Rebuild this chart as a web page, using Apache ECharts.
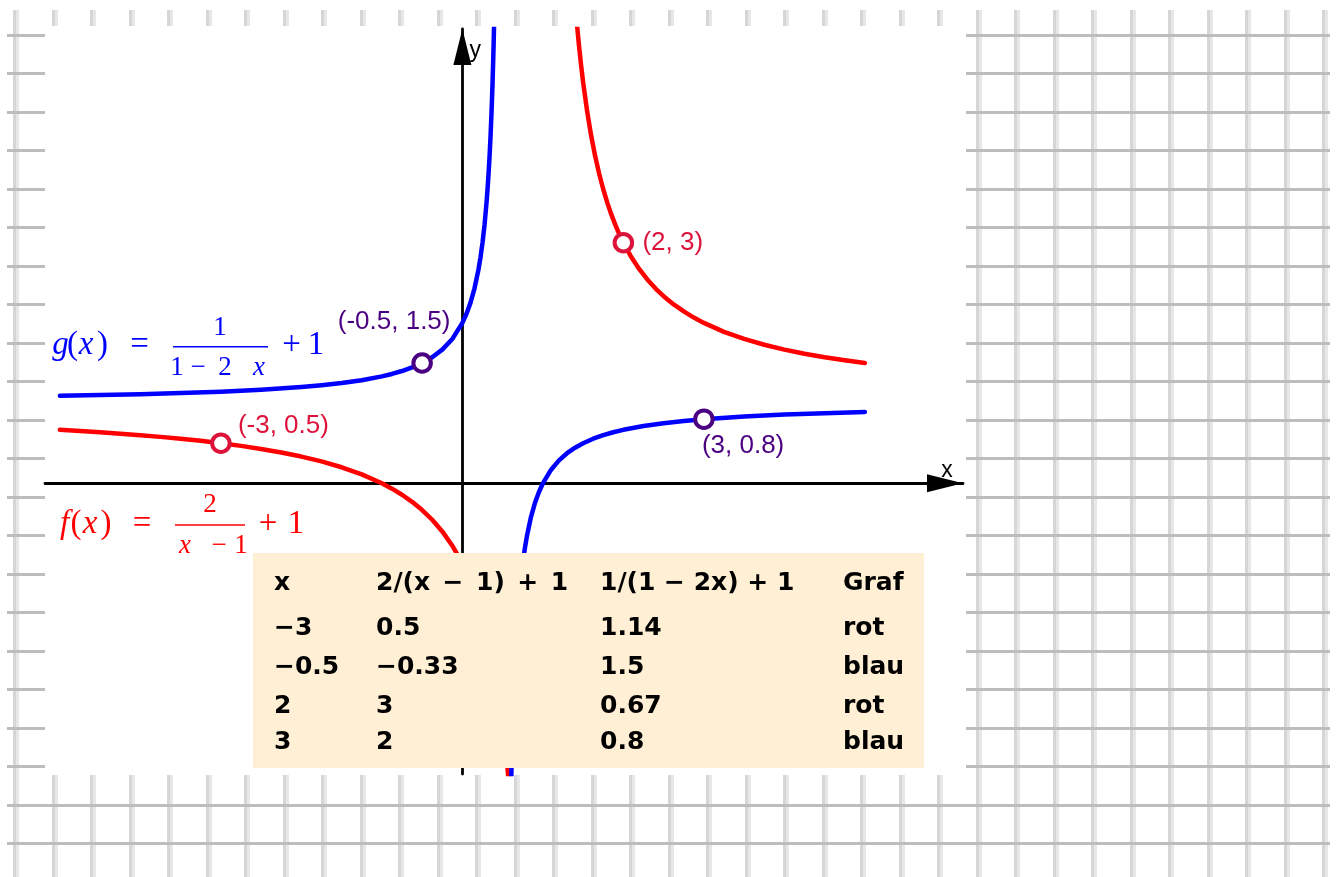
<!DOCTYPE html>
<html>
<head>
<meta charset="utf-8">
<script src="https://cdn.jsdelivr.net/npm/echarts@6/dist/echarts.min.js"></script>
<style>
  html, body { margin: 0; padding: 0; background: #fff; }
  #chart { width: 1336px; height: 877px; }
</style>
</head>
<body>
<div id="chart"></div>
<script>
// f(x) = 2/(x - 1) + 1 (red) and g(x) = 1/(1 - 2x) + 1 (blue), sampled on [-5, 5]
const fLeftBranch = [
  [-5, 0.6667], [-4.75, 0.6522], [-4.5, 0.6364], [-4.25, 0.619], [-4, 0.6], [-3.75, 0.5789],
  [-3.5, 0.5556], [-3.25, 0.5294], [-3, 0.5], [-2.75, 0.4667], [-2.5, 0.4286], [-2.25, 0.3846],
  [-2, 0.3333], [-1.75, 0.2727], [-1.5, 0.2], [-1.25, 0.1111], [-1, 0], [-0.875, -0.0667],
  [-0.75, -0.1429], [-0.625, -0.2308], [-0.5, -0.3333], [-0.375, -0.4545], [-0.25, -0.6],
  [-0.125, -0.7778], [0, -1], [0.05, -1.1053], [0.1, -1.2222], [0.15, -1.3529], [0.2, -1.5],
  [0.25, -1.6667], [0.3, -1.8571], [0.35, -2.0769], [0.4, -2.3333], [0.45, -2.6364], [0.5, -3],
  [0.525, -3.2105], [0.55, -3.4444], [0.575, -3.7059], [0.6, -4]
];
const fRightBranch = [
  [1.4, 6], [1.425, 5.7059], [1.45, 5.4444], [1.475, 5.2105], [1.5, 5], [1.55, 4.6364],
  [1.6, 4.3333], [1.65, 4.0769], [1.7, 3.8571], [1.75, 3.6667], [1.8, 3.5], [1.85, 3.3529],
  [1.9, 3.2222], [1.95, 3.1053], [2, 3], [2.1, 2.8182], [2.2, 2.6667], [2.3, 2.5385],
  [2.4, 2.4286], [2.5, 2.3333], [2.625, 2.2308], [2.75, 2.1429], [2.875, 2.0667], [3, 2],
  [3.25, 1.8889], [3.5, 1.8], [3.75, 1.7273], [4, 1.6667], [4.25, 1.6154], [4.5, 1.5714],
  [4.75, 1.5333], [5, 1.5]
];
const gLeftBranch = [
  [-5, 1.0909], [-4.5, 1.1], [-4, 1.1111], [-3.5, 1.125], [-3, 1.1429], [-2.5, 1.1667],
  [-2, 1.2], [-1.75, 1.2222], [-1.5, 1.25], [-1.25, 1.2857], [-1, 1.3333], [-0.875, 1.3636],
  [-0.75, 1.4], [-0.625, 1.4444], [-0.5, 1.5], [-0.375, 1.5714], [-0.25, 1.6667],
  [-0.125, 1.8], [0, 2], [0.05, 2.1111], [0.1, 2.25], [0.15, 2.4286], [0.2, 2.6667],
  [0.225, 2.8182], [0.25, 3], [0.275, 3.2222], [0.3, 3.5], [0.3125, 3.6667], [0.325, 3.8571],
  [0.3375, 4.0769], [0.35, 4.3333], [0.3625, 4.6364], [0.375, 5], [0.3875, 5.4444], [0.4, 6]
];
const gRightBranch = [
  [0.6, -4], [0.6125, -3.4444], [0.625, -3], [0.6375, -2.6364], [0.65, -2.3333],
  [0.6625, -2.0769], [0.675, -1.8571], [0.7, -1.5], [0.725, -1.2222], [0.75, -1],
  [0.775, -0.8182], [0.8, -0.6667], [0.85, -0.4286], [0.9, -0.25], [0.95, -0.1111], [1, 0],
  [1.1, 0.1667], [1.2, 0.2857], [1.3, 0.375], [1.4, 0.4444], [1.5, 0.5], [1.625, 0.5556],
  [1.75, 0.6], [1.875, 0.6364], [2, 0.6667], [2.25, 0.7143], [2.5, 0.75], [2.75, 0.7778],
  [3, 0.8], [3.5, 0.8333], [4, 0.8571], [4.5, 0.875], [5, 0.8889]
];

// value table
const tableHeader = ['x', '2/(x\u2002\u2212\u20021)\u2002+\u20021', '1/(1 \u2212 2x) + 1', 'Graf'];
const tableX = [-3, -0.5, 2, 3];
const tableF = [0.5, -0.33, 3, 2];
const tableG = [1.14, 1.5, 0.67, 0.8];
const tableGraph = ['rot', 'blau', 'rot', 'blau'];

// visible window of the coordinate plane
const xRange = [-5.185, 6.219];
const yRange = [-3.625, 5.665];

const RED = '#ff0000', BLUE = '#0000ff';
const POINT_RED = '#dc143c', POINT_BLUE = '#4b0082';

// label placement of the marked points, per table row
const labelPlacement = [
  { align: 'left', offset: [17, -17] },
  { align: 'center', offset: [-28, -41] },
  { align: 'left', offset: [19, 0] },
  { align: 'left', offset: [-2, 27] }
];

const fmt = v => String(v).replace('-', '\u2212');

const redPoints = [], bluePoints = [];
tableX.forEach((x, i) => {
  const isRed = tableGraph[i] === 'rot';
  const item = { value: [x, isRed ? tableF[i] : tableG[i]], label: labelPlacement[i] };
  (isRed ? redPoints : bluePoints).push(item);
});

// ---- graph paper behind the plot ----
const paperStep = 38.5;
const hiddenAxis = (grid) => ({ gridIndex: grid, type: 'value', show: false, min: 0, max: 1 });
function paperVertical(grid, color, z) {
  return {
    gridIndex: grid, type: 'value', min: 0, max: 34, interval: 1, z,
    axisLine: { show: false }, axisTick: { show: false }, axisLabel: { show: false },
    splitLine: { show: true, lineStyle: { color, width: 3 } }
  };
}

const grids = [
  { left: 14.5, right: 1336 - 14.5 - 34 * paperStep, top: 10, bottom: 0, outerBoundsMode: 'none' },
  { left: 17.5, right: 1336 - 17.5 - 34 * paperStep, top: 10, bottom: 0, outerBoundsMode: 'none' },
  { left: 7, right: 6, top: 35, bottom: 877 - 35 - 21 * paperStep, outerBoundsMode: 'none' },
  { left: 45, right: 1336 - 963, top: 29, bottom: 877 - 774, outerBoundsMode: 'none' }
];

const axisLineStyle = { color: '#000', width: 2.8 };
const xAxes = [
  paperVertical(0, '#d6d6d6', 0),
  paperVertical(1, '#e7e7e7', 0),
  hiddenAxis(2),
  {
    gridIndex: 3, type: 'value', min: xRange[0], max: xRange[1], z: 3,
    axisLine: { show: true, onZero: true, lineStyle: axisLineStyle,
      symbol: ['none', 'triangle'], symbolSize: [18, 36], symbolOffset: [0, -18] },
    axisTick: { show: false }, axisLabel: { show: false }, splitLine: { show: false },
    name: 'x', nameLocation: 'end', nameGap: -16,
    nameTextStyle: { fontFamily: 'Liberation Sans', fontSize: 23, color: '#000',
      align: 'center', verticalAlign: 'bottom', padding: [0, 0, 1, 0] }
  }
];
const yAxes = [
  hiddenAxis(0),
  hiddenAxis(1),
  {
    gridIndex: 2, type: 'value', inverse: true, min: 0, max: 21, interval: 1, z: 1,
    axisLine: { show: false }, axisTick: { show: false }, axisLabel: { show: false },
    splitLine: { show: true, lineStyle: { color: '#bdbdbd', width: 3 } }
  },
  {
    gridIndex: 3, type: 'value', min: yRange[0], max: yRange[1], z: 3,
    axisLine: { show: true, onZero: true, lineStyle: axisLineStyle,
      symbol: ['none', 'triangle'], symbolSize: [18, 36], symbolOffset: [0, -18] },
    axisTick: { show: false }, axisLabel: { show: false }, splitLine: { show: false },
    name: 'y', nameLocation: 'end', nameGap: -22,
    nameTextStyle: { fontFamily: 'Liberation Sans', fontSize: 23, color: '#000',
      align: 'left', verticalAlign: 'middle', padding: [0, 0, 0, 7] }
  }
];

function curve(data, color) {
  return {
    type: 'line', xAxisIndex: 3, yAxisIndex: 3, data, symbol: 'none', showSymbol: false,
    smooth: false, clip: true, silent: true, z: 4,
    lineStyle: { color, width: 4.5, join: 'round', cap: 'round' }
  };
}
function points(data, color) {
  return {
    type: 'scatter', xAxisIndex: 3, yAxisIndex: 3, data, symbol: 'circle', symbolSize: 17.5,
    silent: true, z: 5,
    itemStyle: { color: '#fff', borderColor: color, borderWidth: 4, opacity: 1 },
    label: {
      show: true, position: 'inside', verticalAlign: 'middle', color,
      fontFamily: 'Liberation Sans', fontSize: 26,
      formatter: p => '(' + p.value[0] + ', ' + p.value[1] + ')'
    }
  };
}

// ---- table ----
const tableColX = [274, 376, 600, 843];
const tableRowY = [583, 628, 667, 706, 742];
const tableFont = { fontFamily: 'DejaVu Sans', fontWeight: 'bold', fontSize: 25, fill: '#000' };
const tableTexts = [];
const tableRows = [tableHeader].concat(tableX.map((x, i) => [fmt(x), fmt(tableF[i]), fmt(tableG[i]), tableGraph[i]]));
tableRows.forEach((row, r) => {
  row.forEach((cell, c) => {
    tableTexts.push({
      type: 'text', x: tableColX[c], y: tableRowY[r], z: 11,
      style: Object.assign({ text: cell, align: 'left', verticalAlign: 'middle' }, tableFont)
    });
  });
});

// ---- function formulas ----
function glyph(text, x, y, size, color, italic) {
  return {
    type: 'text', x, y, z: 11,
    style: { text, fontFamily: 'Liberation Serif', fontSize: size, fontStyle: italic ? 'italic' : 'normal',
      fill: color, align: 'center', verticalAlign: 'middle' }
  };
}
function bar(x1, x2, y, color) {
  return { type: 'line', z: 11, shape: { x1, y1: y, x2, y2: y }, style: { stroke: color, lineWidth: 1.6 } };
}
const MAIN = 33, FRAC = 27;
const gFormula = [
  glyph('g', 60.5, 345, MAIN, BLUE, true), glyph('(', 72.5, 345, MAIN, BLUE), glyph('x', 86, 345, MAIN, BLUE, true),
  glyph(')', 102.5, 345, MAIN, BLUE), glyph('=', 139.5, 345, MAIN, BLUE),
  glyph('1', 220, 328, FRAC, BLUE), bar(173, 268, 346.7, BLUE),
  glyph('1', 177, 368, FRAC, BLUE), glyph('\u2212', 198, 368, FRAC, BLUE), glyph('2', 225, 368, FRAC, BLUE),
  glyph('x', 259, 368, FRAC, BLUE, true),
  glyph('+', 291.5, 345, MAIN, BLUE), glyph('1', 316, 345, MAIN, BLUE)
];
const fFormula = [
  glyph('f', 64.5, 524, MAIN, RED, true), glyph('(', 76, 524, MAIN, RED), glyph('x', 90, 524, MAIN, RED, true),
  glyph(')', 106, 524, MAIN, RED), glyph('=', 142, 524, MAIN, RED),
  glyph('2', 210, 505, FRAC, RED), bar(175, 245, 525, RED),
  glyph('x', 185, 546, FRAC, RED, true), glyph('\u2212', 219, 546, FRAC, RED), glyph('1', 241, 546, FRAC, RED),
  glyph('+', 268, 524, MAIN, RED), glyph('1', 296, 524, MAIN, RED)
];

const chart = echarts.init(document.getElementById('chart'), null, { renderer: 'canvas' });
chart.setOption({
  backgroundColor: '#fff',
  animation: false,
  grid: grids,
  xAxis: xAxes,
  yAxis: yAxes,
  series: [
    curve(fLeftBranch, RED), curve(fRightBranch, RED),
    curve(gLeftBranch, BLUE), curve(gRightBranch, BLUE),
    points(redPoints, POINT_RED), points(bluePoints, POINT_BLUE)
  ],
  graphic: [
    { type: 'rect', z: 2, silent: true, shape: { x: 45, y: 26, width: 921, height: 749 }, style: { fill: '#fff' } },
    { type: 'rect', z: 10, silent: true, shape: { x: 253, y: 553, width: 671, height: 215 }, style: { fill: '#ffefd5' } }
  ].concat(tableTexts, gFormula, fFormula)
});
</script>
</body>
</html>
